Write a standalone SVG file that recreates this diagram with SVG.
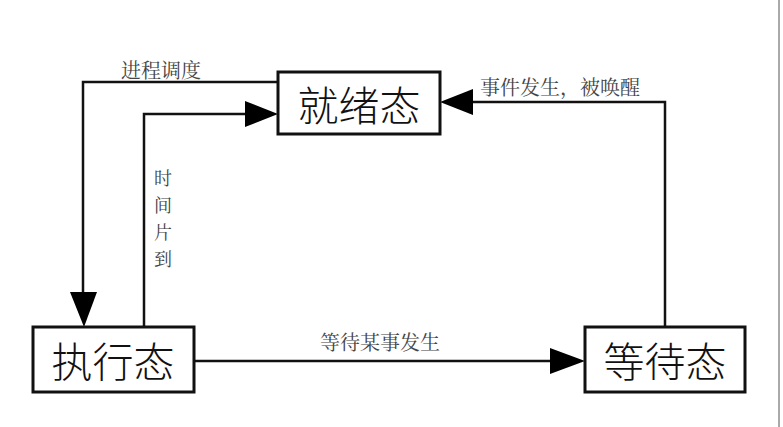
<svg xmlns="http://www.w3.org/2000/svg" width="783" height="427" viewBox="0 0 783 427">
<style>
.box{fill:#fff;stroke:#111;stroke-width:3}
.node{font-family:"Noto Sans CJK SC","Noto Sans",sans-serif;font-size:41px;font-weight:300;fill:#111;text-anchor:middle;dominant-baseline:central}
.lbl{font-family:"Noto Serif CJK SC","Noto Sans CJK SC",serif;font-size:20px;fill:#444}
.vl{font-family:"Noto Serif CJK SC","Noto Sans CJK SC",serif;font-size:18px;fill:#444}
.ln{fill:none;stroke:#111;stroke-width:2.5}
</style>
<rect width="783" height="427" fill="#fff"/>
<line x1="779" y1="0" x2="779" y2="427" stroke="#aaa" stroke-width="2"/>
<g id="connectors">
<polyline class="ln" points="278,82 83,82 83,292"/>
<path d="M70,292 L97,292 L84,327 Z" fill="#000"/>
<polyline class="ln" points="144,327 144,114 245,114"/>
<path d="M245,101 L278,114 L245,127 Z" fill="#000"/>
<polyline class="ln" points="665,327 665,102 473,102"/>
<path d="M473,89 L440,102 L473,115 Z" fill="#000"/>
<line class="ln" x1="194" y1="361" x2="550" y2="361"/>
<path d="M550,348 L585,361 L550,374 Z" fill="#000"/>
<text class="lbl" x="121" y="78">进程调度</text>
<text class="lbl" x="480" y="95">事件发生，被唤醒</text>
<text class="lbl" x="320" y="350">等待某事发生</text>
<text class="vl" x="154" y="185">时</text>
<text class="vl" x="154" y="212">间</text>
<text class="vl" x="154" y="239">片</text>
<text class="vl" x="154" y="266">到</text>
</g>
<g id="ready">
<rect class="box" x="278" y="72" width="162" height="62"/>
<text class="node" x="359" y="103">就绪态</text>
</g>
<g id="running">
<rect class="box" x="33" y="327" width="161" height="65"/>
<text class="node" x="113" y="359">执行态</text>
</g>
<g id="waiting">
<rect class="box" x="585" y="327" width="160" height="65"/>
<text class="node" x="665" y="359">等待态</text>
</g>
</svg>
